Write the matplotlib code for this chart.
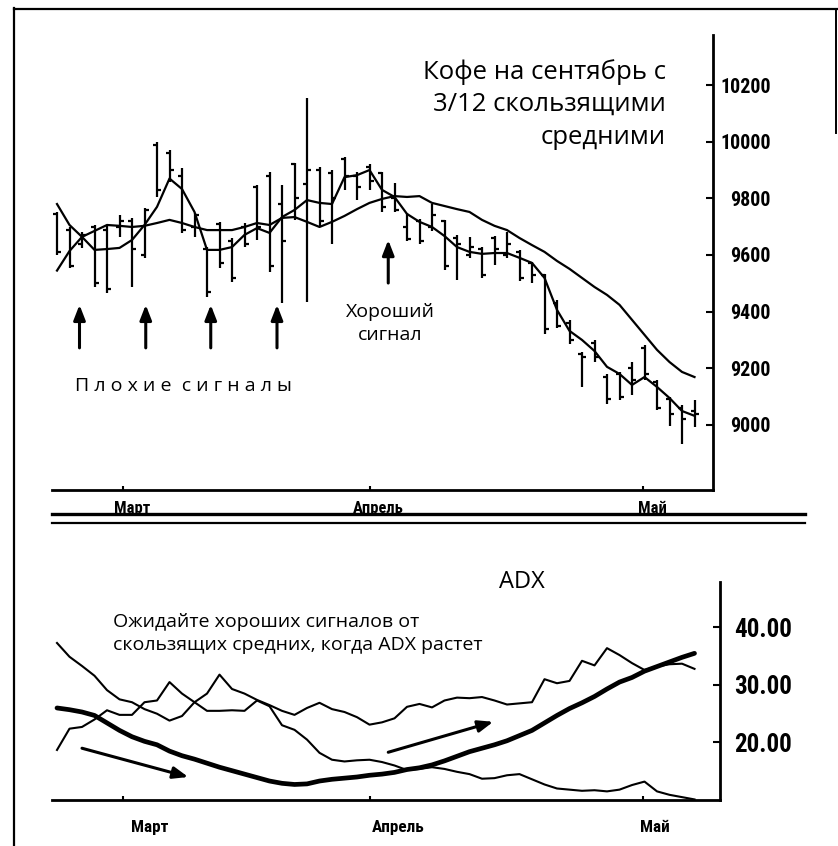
import matplotlib.pyplot as plt
from matplotlib import font_manager
from matplotlib.font_manager import FontProperties
from matplotlib.textpath import TextPath
from matplotlib.lines import Line2D
import numpy as np

plt.rcParams['font.family'] = ['Open Sans', 'DejaVu Sans']

# trading days, coffee (September) bars
days = np.arange(52)
price_high = [9752, 9699, 9681, 9706, 9706, 9741, 9731, 9766, 9999, 9971,
              9907, 9748, 9628, 9717, 9660, 9713, 9847, 9893, 9847, 9925,
              10154, 9911, 9900, 9946, 9893, 9921, 9893, 9854, 9748, 9727,
              9780, 9724, 9671, 9664, 9628, 9667, 9681, 9618, 9575, 9533,
              9441, 9371, 9258, 9300, 9180, 9187, 9222, 9282, 9159, 9099,
              9071, 9088]
price_low = [9600, 9554, 9625, 9487, 9466, 9664, 9487, 9590, 9805, 9858,
             9678, 9664, 9452, 9554, 9505, 9628, 9653, 9540, 9431, 9724,
             9434, 9699, 9639, 9830, 9794, 9830, 9752, 9752, 9650, 9639,
             9685, 9547, 9512, 9590, 9519, 9565, 9590, 9508, 9501, 9321,
             9342, 9286, 9134, 9222, 9074, 9088, 9106, 9159, 9053, 8996,
             8933, 8993]
price_open = [9745, 9690, 9640, 9700, 9690, 9700, 9720, 9600, 9990, 9960,
              9880, 9700, 9620, 9710, 9650, 9700, 9840, 9880, 9780, 9920,
              9850, 9900, 9890, 9940, 9880, 9910, 9890, 9800, 9700, 9720,
              9700, 9720, 9660, 9600, 9620, 9660, 9600, 9610, 9570, 9530,
              9430, 9360, 9250, 9290, 9170, 9180, 9200, 9270, 9150, 9090,
              9060, 9050]
price_close = [9610, 9560, 9670, 9500, 9480, 9720, 9620, 9760, 9830, 9900,
               9690, 9740, 9470, 9570, 9520, 9640, 9700, 9560, 9650, 9800,
               9900, 9720, 9800, 9880, 9840, 9860, 9770, 9760, 9655, 9650,
               9740, 9560, 9640, 9630, 9530, 9620, 9640, 9520, 9530, 9340,
               9350, 9300, 9240, 9240, 9090, 9100, 9160, 9180, 9060, 9040,
               9020, 9040]
ma3 = [9780, 9706, 9664, 9618, 9621, 9625, 9653, 9706, 9770, 9870,
       9833, 9752, 9618, 9618, 9628, 9671, 9695, 9678, 9734, 9759,
       9794, 9784, 9780, 9875, 9882, 9900, 9830, 9805, 9745, 9717,
       9699, 9667, 9628, 9611, 9604, 9607, 9607, 9590, 9572, 9519,
       9406, 9332, 9300, 9261, 9205, 9180, 9141, 9169, 9134, 9095,
       9049, 9032]
ma12 = [9545, 9614, 9664, 9685, 9706, 9703, 9699, 9703, 9713, 9724,
        9713, 9699, 9688, 9688, 9688, 9699, 9713, 9706, 9731, 9734,
        9717, 9699, 9717, 9738, 9762, 9784, 9798, 9808, 9805, 9808,
        9784, 9773, 9762, 9752, 9724, 9703, 9688, 9660, 9635, 9611,
        9579, 9551, 9519, 9487, 9459, 9424, 9371, 9318, 9265, 9222,
        9187, 9169]

# ADX panel
adx = [26.0, 25.7, 25.3, 24.7, 23.4, 22.1, 21.0, 20.2, 19.6, 18.5,
       17.7, 17.1, 16.4, 15.7, 15.1, 14.5, 13.9, 13.3, 12.9, 12.7,
       12.8, 13.3, 13.6, 13.8, 14.0, 14.3, 14.5, 14.8, 15.3, 15.6,
       16.1, 16.8, 17.6, 18.4, 19.0, 19.6, 20.3, 21.2, 22.1, 23.4,
       24.7, 25.9, 26.9, 28.0, 29.3, 30.5, 31.3, 32.4, 33.2, 34.0,
       34.8, 35.5]
di_plus = [18.7, 22.4, 22.7, 24.0, 25.6, 24.8, 24.8, 27.0, 27.3, 30.5,
           28.5, 27.0, 28.5, 31.8, 29.3, 28.5, 27.4, 26.5, 25.5, 24.8,
           26.0, 26.9, 25.8, 25.3, 24.4, 23.1, 23.5, 24.2, 26.2, 26.7,
           26.1, 27.3, 27.8, 27.7, 27.9, 27.3, 26.6, 26.8, 27.0, 31.0,
           30.3, 30.7, 34.2, 33.4, 36.4, 35.2, 33.8, 32.6, 33.2, 33.6,
           33.7, 32.8]
di_minus = [37.3, 34.9, 33.3, 31.6, 29.1, 27.5, 27.0, 25.8, 25.0, 23.8,
            24.6, 27.0, 25.5, 25.5, 25.6, 25.5, 27.3, 26.3, 23.0, 22.2,
            20.5, 18.2, 17.0, 16.7, 16.9, 17.0, 16.6, 16.0, 15.2, 15.4,
            15.7, 15.4, 14.9, 14.5, 13.7, 13.8, 14.3, 14.5, 13.6, 12.7,
            12.0, 11.8, 11.6, 11.7, 11.5, 11.8, 12.6, 13.2, 11.5, 10.9,
            10.5, 10.1]

price_ticks = [9000, 9200, 9400, 9600, 9800, 10000, 10200]
adx_ticks = [20, 30, 40]
adx_tick_labels = ['20.00', '30.00', '40.00']
month_days = [5.3, 25.0, 46.9]
month_names = ['Март', 'Апрель', 'Май']
bad_signal_days = [1.8, 7.1, 12.3, 17.6]
good_signal_day = 26.5

W, H = 838, 846


def text_extent(s, fp):
    bb = TextPath((0, 0), s, size=1, prop=fp).get_extents()
    return bb.width, bb.height


def narrow_font():
    # most condensed bold sans face available, for the axis labels
    ok = {'Liberation Sans Narrow', 'Liberation Sans', 'DejaVu Sans',
          'Noto Sans', 'Roboto', 'Roboto Condensed', 'Open Sans', 'Inter'}
    best, best_r = FontProperties(family='DejaVu Sans', weight='bold'), 99
    for f in font_manager.fontManager.ttflist:
        w = f.weight if isinstance(f.weight, int) else \
            font_manager.weight_dict.get(f.weight, 400)
        if f.name not in ok or w < 600 or f.style != 'normal':
            continue
        fp = FontProperties(fname=f.fname)
        try:
            tw, th = text_extent('10200', fp)
        except Exception:
            continue
        if th > 0 and tw / th < best_r:
            best, best_r = fp, tw / th
    return best


nf = narrow_font()


def fitted(s, width_px):
    # font size (pt) that makes s about width_px wide
    tw, _ = text_extent(s, nf)
    return width_px * 0.72 / tw


def nprop(size):
    p = nf.copy()
    p.set_size(size)
    return p


def px(x, y):
    return x / W, 1 - y / H


fig = plt.figure(figsize=(W / 100, H / 100), dpi=100)

# ---- price panel
ax1 = fig.add_axes([52 / W, 1 - 490 / H, 661 / W, 455 / H])
ax1.vlines(days, price_low, price_high, color='black', lw=1.6)
ax1.hlines(price_open, days - 0.32, days, color='black', lw=1.6)
ax1.hlines(price_close, days, days + 0.32, color='black', lw=1.6)
ax1.plot(days, ma3, color='black', lw=1.6)
ax1.plot(days, ma12, color='black', lw=1.6)
ax1.set_xlim(-0.4, 52.48)
ax1.set_ylim(8770, 10377)
for s in ['left', 'top']:
    ax1.spines[s].set_visible(False)
for s in ['right', 'bottom']:
    ax1.spines[s].set_linewidth(2)
ax1.yaxis.tick_right()
ax1.set_yticks(price_ticks)
ax1.set_yticklabels([str(v) for v in price_ticks],
                    fontproperties=nprop(fitted('10200', 48)))
for lbl in ax1.get_yticklabels():
    lbl.set_horizontalalignment('right')
ax1.tick_params(axis='y', direction='in', length=5, width=1.5, pad=41.5)
ax1.set_xticks(month_days)
ax1.set_xticklabels([])
ax1.tick_params(axis='x', direction='in', length=3, width=1.5)
msize = fitted('Апрель', 50)
for d, name in zip(month_days, month_names):
    ax1.text(d + 0.7, -0.04, name, transform=ax1.get_xaxis_transform(),
             ha='center', va='center', fontproperties=nprop(msize))

arrow = dict(arrowstyle='-|>,head_length=0.9,head_width=0.35', lw=2.2,
             color='black', shrinkA=0, shrinkB=0)
for d in bad_signal_days:
    ax1.annotate('', xy=(d, 9424), xytext=(d, 9272), arrowprops=arrow)
ax1.annotate('', xy=(good_signal_day, 9653), xytext=(good_signal_day, 9501),
             arrowprops=arrow)

fig.text(*px(666, 79), 'Кофе на сентябрь с', ha='right', va='baseline',
         fontsize=18.5)
fig.text(*px(666, 111), '3/12 скользящими', ha='right', va='baseline',
         fontsize=18.5)
fig.text(*px(666, 144), 'средними', ha='right', va='baseline', fontsize=18.5)
fig.text(*px(390, 317), 'Хороший', ha='center', va='baseline', fontsize=14)
fig.text(*px(390, 340), 'сигнал', ha='center', va='baseline', fontsize=14)
fig.text(*px(75, 391), 'П л о х и е  с и г н а л ы', ha='left',
         va='baseline', fontsize=14)

# ---- ADX panel
ax2 = fig.add_axes([52 / W, 1 - 800 / H, 668 / W, 218 / H])
ax2.plot(days, di_minus, color='black', lw=1.5)
ax2.plot(days, di_plus, color='black', lw=1.5)
ax2.plot(days, adx, color='black', lw=3.4, solid_capstyle='round')
ax2.set_xlim(-0.4, 53.04)
ax2.set_ylim(10, 47.9)
for s in ['left', 'top']:
    ax2.spines[s].set_visible(False)
for s in ['right', 'bottom']:
    ax2.spines[s].set_linewidth(2)
ax2.yaxis.tick_right()
ax2.set_yticks(adx_ticks)
ax2.set_yticklabels(adx_tick_labels,
                    fontproperties=nprop(fitted('40.00', 56)))
for lbl in ax2.get_yticklabels():
    lbl.set_horizontalalignment('right')
ax2.tick_params(axis='y', direction='in', length=5, width=1.5, pad=51.5)
ax2.set_xticks(month_days)
ax2.set_xticklabels([])
ax2.tick_params(axis='x', direction='in', length=3, width=1.5)
msize2 = fitted('Апрель', 52)
for d, name, shift in zip(month_days, month_names, [2.1, 2.3, 0.9]):
    ax2.text(d + shift, -0.128, name, transform=ax2.get_xaxis_transform(),
             ha='center', va='center', fontproperties=nprop(msize2))

ax2.annotate('', xy=(10.5, 14.0), xytext=(2.0, 19.0), arrowprops=arrow)
ax2.annotate('', xy=(34.9, 23.6), xytext=(26.5, 18.3), arrowprops=arrow)

fig.text(*px(522, 588), 'ADX', ha='center', va='baseline', fontsize=17)
fig.text(*px(113, 627), 'Ожидайте хороших сигналов от', ha='left',
         va='baseline', fontsize=14)
fig.text(*px(113, 650), 'скользящих средних, когда ADX растет', ha='left',
         va='baseline', fontsize=14)

# ---- page frame and separators
frame = [((14, 14), (8, 846), 1.6), ((14, 838), (9, 9), 1.6),
         ((836, 836), (9, 133), 1.4), ((52, 805), (514, 514), 2.4),
         ((52, 805), (523, 523), 1.6)]
for xs, ys, lw in frame:
    fig.add_artist(Line2D([x / W for x in xs], [1 - y / H for y in ys],
                          color='black', lw=lw))

fig.savefig('out.png', dpi=100)
